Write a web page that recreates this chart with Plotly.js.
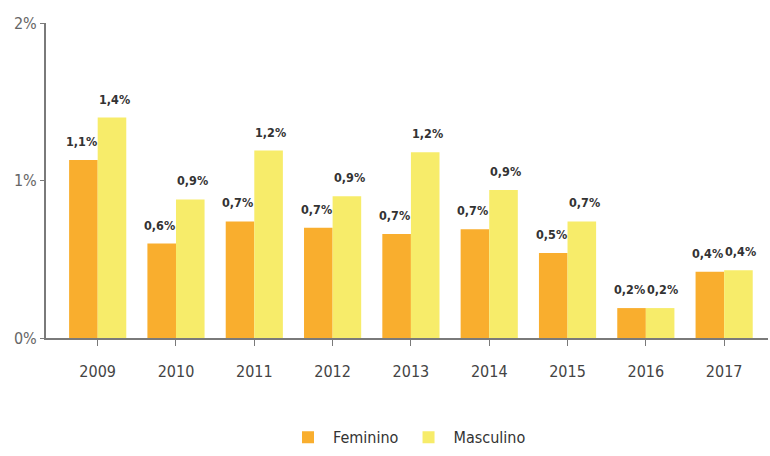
<!DOCTYPE html>
<html>
<head>
<meta charset="utf-8">
<script src="https://cdn.plot.ly/plotly-3.0.1.min.js"></script>
<style>html,body{margin:0;padding:0;background:#fff;}#chart{width:770px;height:456px;}</style>
</head>
<body>
<div id="chart"></div>
<script>
var years = ['2009','2010','2011','2012','2013','2014','2015','2016','2017'];
var feminino = [1.13, 0.60, 0.74, 0.70, 0.66, 0.69, 0.54, 0.19, 0.42];
var masculino = [1.40, 0.88, 1.19, 0.90, 1.18, 0.94, 0.74, 0.19, 0.43];
var yTicks = [0, 1, 2];
var yTickLabels = ['0%', '1%', '2%'];

var narrow = 'DejaVu Sans Condensed, Liberation Sans Narrow, Arial Narrow, sans-serif';
var labelFont = {family: narrow, size: 12.5, color: '#333', weight: 700};

function fmt(v) { return v.toFixed(1).replace('.', ',') + '%'; }

var traces = [
  {type: 'bar', name: 'Feminino', x: years, y: feminino,
   marker: {color: '#F9AE2E'}, hoverinfo: 'none'},
  {type: 'bar', name: 'Masculino', x: years, y: masculino,
   marker: {color: '#F7EC6A'}, hoverinfo: 'none'}
];

var annotations = [];
function addLabels(values, shift) {
  values.forEach(function (v, i) {
    annotations.push({x: i, y: v, xref: 'x', yref: 'y', text: fmt(v),
      showarrow: false, xshift: shift, yshift: 9, yanchor: 'bottom',
      font: labelFont});
  });
}
addLabels(feminino, -16.5);
addLabels(masculino, 16.5);

var layout = {
  width: 770, height: 456,
  margin: {l: 46, r: 2, t: 23, b: 116},
  barmode: 'group', bargap: 0.27, bargroupgap: 0,
  paper_bgcolor: '#fff', plot_bgcolor: '#fff',
  showlegend: true,
  annotations: annotations,
  legend: {orientation: 'h', x: 0.5, xanchor: 'center', y: -0.315, yanchor: 'middle',
    font: {family: narrow, size: 16, color: '#333'},
    itemwidth: 40, traceorder: 'normal'},
  xaxis: {type: 'category', range: [-0.66, 8.56], showgrid: false, zeroline: false,
    showline: true, linecolor: '#7a7a7a', linewidth: 2,
    ticks: 'outside', ticklen: 6, tickcolor: '#7a7a7a', tickwidth: 1,
    ticklabelstandoff: 12,
    tickfont: {family: narrow, size: 16, color: '#444'}},
  yaxis: {range: [0, 2], tickmode: 'array', tickvals: yTicks, ticktext: yTickLabels,
    showgrid: false, zeroline: false,
    showline: true, linecolor: '#7a7a7a', linewidth: 2,
    ticks: 'outside', ticklen: 4, tickcolor: '#7a7a7a', tickwidth: 1,
    tickfont: {family: narrow, size: 16, color: '#666'}}
};

Plotly.newPlot('chart', traces, layout, {displayModeBar: false, staticPlot: true});
</script>
</body>
</html>
